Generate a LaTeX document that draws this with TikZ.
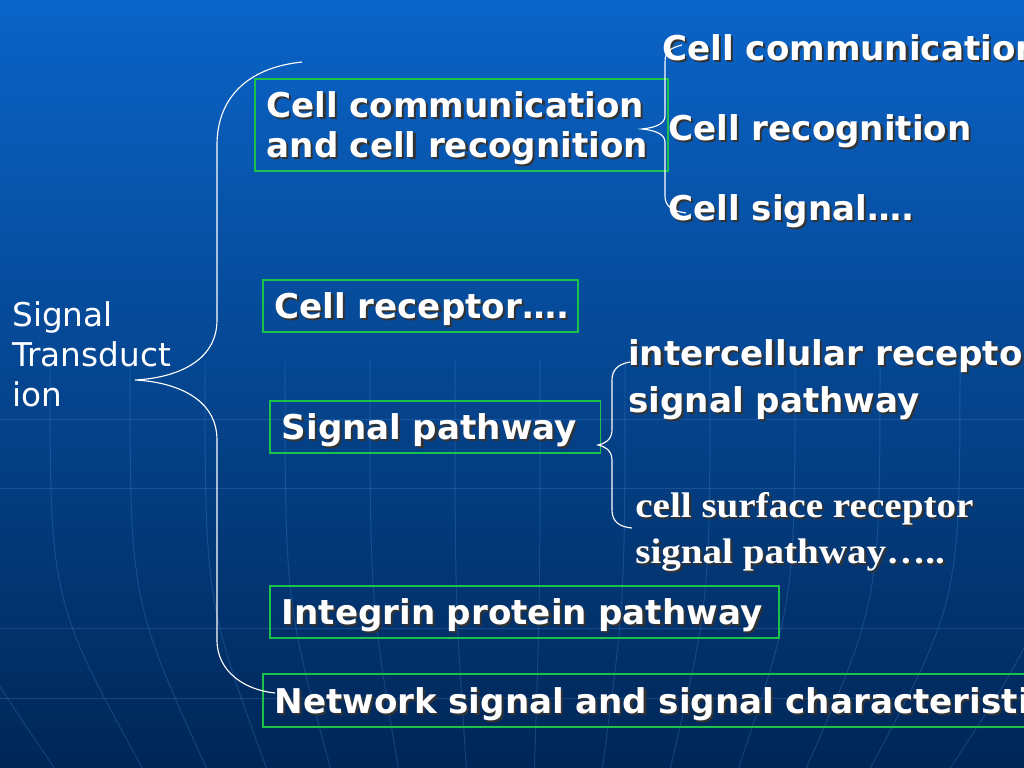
\documentclass[tikz,border=0pt]{standalone}
\usepackage{fontspec}
\setmainfont{DejaVu Sans}
\newfontfamily\slideserif{Liberation Serif}[FakeStretch=1.1]
\definecolor{bgtop}{RGB}{10,100,200}
\definecolor{bgmid}{RGB}{0,76,160}
\definecolor{bgbot}{RGB}{0,38,86}
\definecolor{boxgreen}{RGB}{25,195,75}
\definecolor{meridian}{RGB}{90,160,240}
\newcommand{\shadowed}[1]{\mbox{\rlap{\hspace{1.5pt}\raisebox{-1.5pt}{\color{black!80}#1}}#1}}
\begin{document}
\begin{tikzpicture}[x=0.703pt, y=-0.703pt,
    boxed/.style={draw=boxgreen, line width=1.1pt, anchor=north west, inner xsep=8.4pt,
      inner ysep=0pt, text depth=0pt, align=left, text=white,
      font=\fontsize{24}{28}\selectfont\bfseries},
    leaf/.style={anchor=base west, inner sep=0pt, align=left, text=white,
      font=\fontsize{24}{33}\selectfont\bfseries},
    brace/.style={draw=white, line width=0.8pt},
    gridline/.style={draw=meridian, opacity=.22, line width=.7pt}]
    \useasboundingbox (0,0) rectangle (1024,768);
    \clip (0,0) rectangle (1024,768);
    \shade[top color=bgtop, middle color=bgmid, bottom color=bgbot] (0,0) rectangle (1024,768);
    % globe lines in the background
    \foreach \y in {419,488,628,698}
      \draw[gridline] (0,\y) -- (1024,\y);
    \foreach \xt [evaluate=\xt as \xb using 512+(\xt-512)*0.8] in {-60,50,130,205,285,370,455,540,625,710,795,880,960,1060}
      \draw[gridline] (\xt,360) .. controls (\xt,600) .. (\xb,768);

    \node[anchor=base west, inner sep=0pt, align=left, text=white,
      font=\fontsize{23}{28}\selectfont] (sigtrans) at (12,406) {Signal\\Transduct\\ion};

    \node[boxed, text width=273.5pt, minimum height=64.7pt, text depth=28.8pt] (commrec) at (254,78)
      {\shadowed{Cell communication}\\\shadowed{and cell recognition}};
    \node[boxed, text width=204.6pt, minimum height=36.6pt] (receptor) at (262,279)
      {\shadowed{Cell receptor….}};
    \node[boxed, text width=215.8pt, minimum height=36.6pt] (pathway) at (269,400)
      {\shadowed{Signal pathway}};
    \node[boxed, text width=341pt, minimum height=36.6pt] (integrin) at (269,585)
      {\shadowed{Integrin protein pathway}};
    \node[boxed, text width=545.5pt, minimum height=37.3pt] (network) at (262,673)
      {\shadowed{Network signal and signal characteristics}};

    \node[leaf] (comm) at (662,60) {\shadowed{Cell communication}};
    \node[leaf] (recog) at (668,140) {\shadowed{Cell recognition}};
    \node[leaf] (csignal) at (668,220) {\shadowed{Cell signal….}};
    \node[leaf] (intra) at (628,412) {\shadowed{intercellular receptor}\\\shadowed{signal pathway}};
    \node[leaf, font=\fontsize{25}{32}\slideserif\bfseries] (surface) at (635,563)
      {\shadowed{cell surface receptor}\\\shadowed{signal pathway…..}};

    % braces
    \coordinate (bigtop) at (302,62);
    \coordinate (bigtip) at (135,380);
    \coordinate (bigbot) at (275,693);
    \draw[brace] (bigtop) .. controls (245,68) and (217,100) .. (217,145) -- (217,320)
      .. controls (217,362) and (175,378) .. (bigtip)
      .. controls (175,382) and (217,398) .. (217,440) -- (217,640)
      .. controls (217,672) and (245,690) .. (bigbot);

    \coordinate (b1top) at (682,45);
    \coordinate (b1tip) at (642,129);
    \coordinate (b1bot) at (686,213);
    \draw[brace] (b1top) .. controls (670,48) and (665,52) .. (665,62) -- (665,116)
      .. controls (665,125) and (652,128) .. (b1tip)
      .. controls (652,130) and (665,133) .. (665,142) -- (665,196)
      .. controls (665,206) and (672,211) .. (b1bot);

    \coordinate (b3top) at (630,362);
    \coordinate (b3tip) at (598,445);
    \coordinate (b3bot) at (632,528);
    \draw[brace] (b3top) .. controls (618,364) and (612,370) .. (612,380) -- (612,430)
      .. controls (612,440) and (604,444) .. (b3tip)
      .. controls (604,446) and (612,450) .. (612,460) -- (612,510)
      .. controls (612,522) and (620,527) .. (b3bot);
\end{tikzpicture}
\end{document}
